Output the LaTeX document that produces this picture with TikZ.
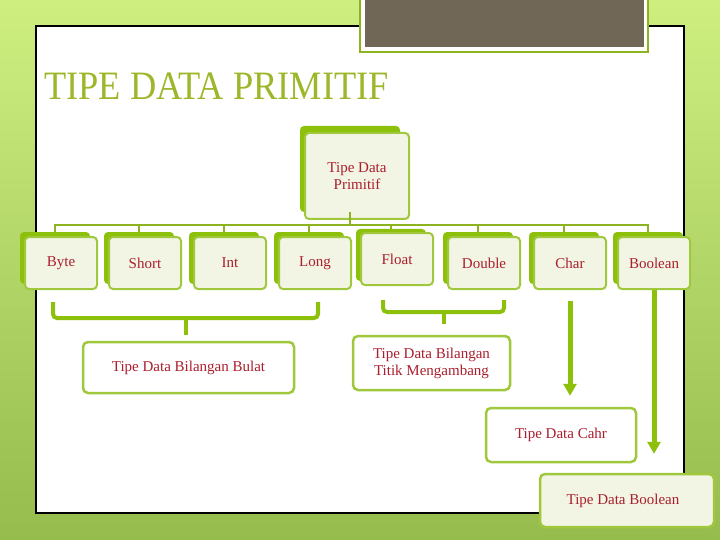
\documentclass[tikz,border=0pt]{standalone}
\usepackage{fontspec}
\setmainfont{Liberation Serif}
\usetikzlibrary{arrows.meta}

\definecolor{bgtop}{RGB}{206,238,128}
\definecolor{bgbot}{RGB}{150,188,78}
\definecolor{titlegreen}{RGB}{156,184,42}
\definecolor{barolive}{RGB}{142,179,32}
\definecolor{backgreen}{RGB}{140,192,10}
\definecolor{boxline}{RGB}{160,200,60}
\definecolor{paleface}{RGB}{242,245,228}
\definecolor{labelred}{RGB}{170,30,45}
\definecolor{darkbox}{RGB}{113,103,86}

\tikzset{
  lbl/.style={font=\fontsize{15}{17}\selectfont, text=labelred},
  backbox/.style={fill=backgreen, rounded corners=4pt, minimum width=70, minimum height=52},
  frontbox/.style={lbl, draw=boxline, line width=2, fill=paleface, rounded corners=4pt,
    minimum width=72, minimum height=52, inner sep=0pt},
  groupbox/.style={lbl, draw=boxline, line width=2.5, fill=white, rounded corners=5pt,
    inner sep=0pt, align=center},
  bar/.style={draw=barolive, line width=2},
  brace/.style={draw=backgreen, line width=4, rounded corners=4pt},
  arr/.style={draw=backgreen, line width=5, -{Triangle[width=13pt,length=12pt]}}
}

\begin{document}
\begin{tikzpicture}[x=1pt, y=-1pt]
\useasboundingbox (0,0) rectangle (720,540);

% slide background and panel
\shade[top color=bgtop, bottom color=bgbot] (0,0) rectangle (720,540);
\draw[black, line width=1.2, fill=white] (36,26) rectangle (684,513);
\draw[draw=barolive, line width=2, fill=white] (360,-5) rectangle (648,52);
\fill[darkbox] (365,-5) rectangle (644,47);

\node[anchor=base west, text=titlegreen, font=\fontsize{36}{40}\selectfont, inner sep=0pt]
  (title) at (44,100) {\scalebox{1.01}[1.12]{TIPE DATA PRIMITIF}};

% root
\node[backbox, minimum width=100, minimum height=86] (primb) at (350,169) {};
\node[frontbox, minimum width=104, minimum height=86, align=center] (prim) at (357,176) {Tipe Data\\Primitif};

% children
\node[backbox] (byteb)   at (55,258)  {};
\node[frontbox] (byte)   at (61,263)  {Byte};
\node[backbox] (shortb)  at (139,258) {};
\node[frontbox] (short)  at (145,263) {Short};
\node[backbox] (intb)    at (224,258) {};
\node[frontbox] (int)    at (230,263) {Int};
\node[backbox] (longb)   at (309,258) {};
\node[frontbox] (long)   at (315,263) {Long};
\node[backbox] (floatb)  at (391,255) {};
\node[frontbox] (float)  at (397,259) {Float};
\node[backbox] (doubleb) at (478,258) {};
\node[frontbox] (double) at (484,263) {Double};
\node[backbox] (charb)   at (564,258) {};
\node[frontbox] (char)   at (570,263) {Char};
\node[backbox] (boolb)   at (648,258) {};
\node[frontbox] (bool)   at (654,263) {Boolean};

% tree lines
\coordinate (hub) at (350,225);
\draw[bar] (primb.south) -- (hub);
\draw[bar] (byteb.north) -- ++(0,-7) -| (boolb.north);
\draw[bar] (shortb.north) -- ++(0,-7);
\draw[bar] (intb.north) -- ++(0,-7);
\draw[bar] (longb.north) -- ++(0,-7);
\draw[bar] (floatb.north) -- ++(0,-4);
\draw[bar] (doubleb.north) -- ++(0,-7);
\draw[bar] (charb.north) -- ++(0,-7);

% groups
\node[groupbox, minimum width=211, minimum height=51] (bulat) at (188.5,367.5) {Tipe Data Bilangan Bulat};
\node[groupbox, minimum width=157, minimum height=54] (titik) at (431.5,363) {Tipe Data Bilangan\\Titik Mengambang};
\node[groupbox, minimum width=150, minimum height=54] (cahr) at (561,435) {Tipe Data Cahr};
\node[groupbox, fill=paleface, minimum width=174, minimum height=53] (boolean) at (627,500.5) {\hspace*{-8pt}Tipe Data Boolean};

% braces
\draw[brace] (53,302) -- (53,318) -- (318,318) -- (318,302);
\draw[backgreen, line width=4] (bulat.north) ++(-2.5,-6) -- ++(0,-18);
\draw[brace] (383,300) -- (383,312) -- (504,312) -- (504,300);
\draw[backgreen, line width=4] (titik.north) ++(12.5,-11) -- ++(0,-13);

% arrows
\draw[arr, shorten <=11pt, shorten >=11pt] (char.south) -- (cahr.north -| char.south);
\draw[arr, shorten >=19pt] (bool.south) -- (boolean.north -| bool.south);

\end{tikzpicture}
\end{document}
